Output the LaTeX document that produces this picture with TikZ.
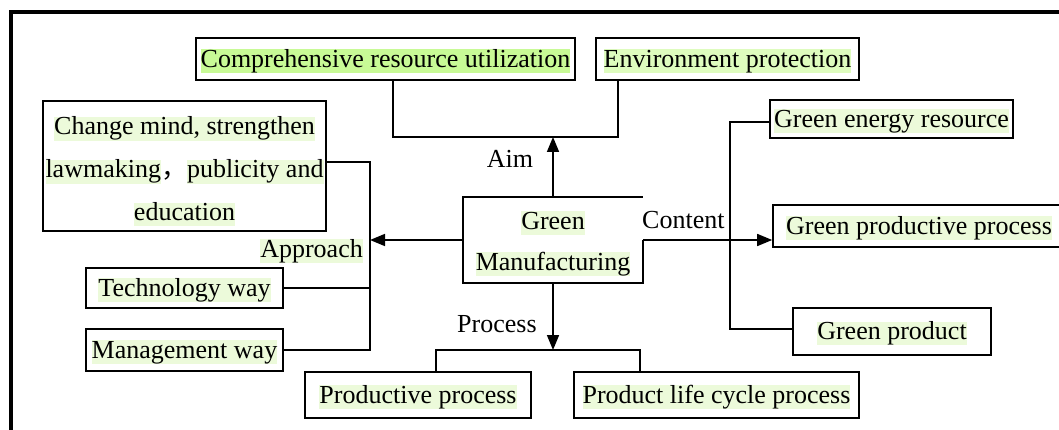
\documentclass[tikz,border=0pt]{standalone}
\usepackage{fontspec}
\setmainfont{Liberation Serif}
\newfontfamily\cjk{Noto Sans CJK SC}
\usetikzlibrary{arrows.meta}
\definecolor{hlA}{RGB}{200,250,150}
\definecolor{hlB}{RGB}{222,252,190}
\definecolor{hl}{RGB}{236,250,218}
% text highlight band behind a word or phrase
\newcommand{\hl}[2][hl]{{\fboxsep=0pt\colorbox{#1}{\rule[-5.5pt]{0pt}{23.5pt}#2}}}
\begin{document}
\begin{tikzpicture}[x=1pt,y=-1pt,
  every node/.style={font=\fontsize{26}{41}\selectfont},
  box/.style={draw, line width=1.6pt, inner sep=0pt, text height=22pt, text depth=5.5pt},
  mbox/.style={draw, line width=1.6pt, inner sep=0pt, align=center},
  link/.style={line width=1.6pt},
  arr/.style={line width=1.6pt, -{Triangle[length=15pt,width=12pt]}},
  lbl/.style={inner sep=0pt, text height=22pt, text depth=5.5pt},
]
\useasboundingbox (0,0) rectangle (1059,430);

% outer frame
\draw[line width=4pt] (10.5,430) -- (10.5,12) -- (1059,12);

% aims
\node[box, minimum width=379pt, minimum height=42pt] (comp) at (385.5,59) {\hl[hlA]{Comprehensive resource utilization}};
\node[box, minimum width=263pt, minimum height=42pt] (env) at (727.5,59) {\hl[hlB]{Environment protection}};

% approaches
\node[mbox, minimum width=283pt, minimum height=130pt, font=\fontsize{26}{43}\selectfont] (change) at (184.5,166)
  {\rule{0pt}{29.5pt}\hl{Change mind, strengthen}\\ \hl{lawmaking}{\cjk ，}\hl{publicity and}\\ \hl{education}};
\node[box, minimum width=197pt, minimum height=40pt] (tech) at (184.5,288) {\hl{Technology way}};
\node[box, minimum width=197pt, minimum height=42pt] (mgmt) at (184.5,350) {\hl{Management way}};

% centre
\node[mbox, draw=none, minimum width=178pt, minimum height=84pt] (gm) at (553,240)
  {\rule{0pt}{25.5pt}\hl{Green}\\ \hl{Manufacturing}};

% contents
\node[box, minimum width=243pt, minimum height=38pt] (ge) at (891.5,119) {\hl{Green energy resource}};
\node[box, minimum width=292pt, minimum height=42pt] (gpp) at (919,226) {\hl{Green productive process}};
\node[box, minimum width=198pt, minimum height=47pt] (gp) at (892,331.5) {\hl{Green product}};

% processes
\node[box, minimum width=226pt, minimum height=46pt] (pp) at (418,395) {\hl{Productive process}};
\node[box, minimum width=285pt, minimum height=46pt] (plc) at (716.5,395) {\hl{Product life cycle process}};

% branch labels
\node[lbl] (aim) at (510,159) {Aim};
\node[lbl, anchor=west] (content) at (642,220) {Content};
\node[lbl, anchor=east] (approach) at (363,249) {\hl{Approach}};
\node[lbl, anchor=west] (process) at (457,324) {Process};

% bus points
\coordinate (aimL) at (393,137);
\coordinate (aimR) at (618,137);
\coordinate (apTop) at (370,162);
\coordinate (apBot) at (370,350);
\coordinate (prL) at (436,350);
\coordinate (prR) at (640,350);
\coordinate (ctTop) at (730,122);
\coordinate (ctBot) at (730,329);

% centre outline (upper right side left open)
\draw[link] (gm.north east) -- (gm.north west) -- (gm.south west) -- (gm.south east) -- (gm.east);

% aim branch
\draw[link] (comp.south -| aimL) -- (aimL) -- (aimR) -- (env.south -| aimR);
\draw[arr] (gm.north) -- (gm.north |- aimL);

% approach branch
\draw[link] (change.east |- apTop) -- (apTop) -- (apBot) -- (mgmt.east |- apBot);
\draw[link] (tech.east) -- (tech.east -| apTop);
\draw[arr] (gm.west) -- (gm.west -| apTop);

% process branch
\draw[link] (pp.north -| prL) -- (prL) -- (prR) -- (plc.north -| prR);
\draw[arr] (gm.south) -- (gm.south |- prL);

% content branch
\draw[link] (ge.west |- ctTop) -- (ctTop) -- (ctBot) -- (gp.west |- ctBot);
\draw[arr] (gm.east) -- (gm.east -| gpp.west);
\end{tikzpicture}
\end{document}
